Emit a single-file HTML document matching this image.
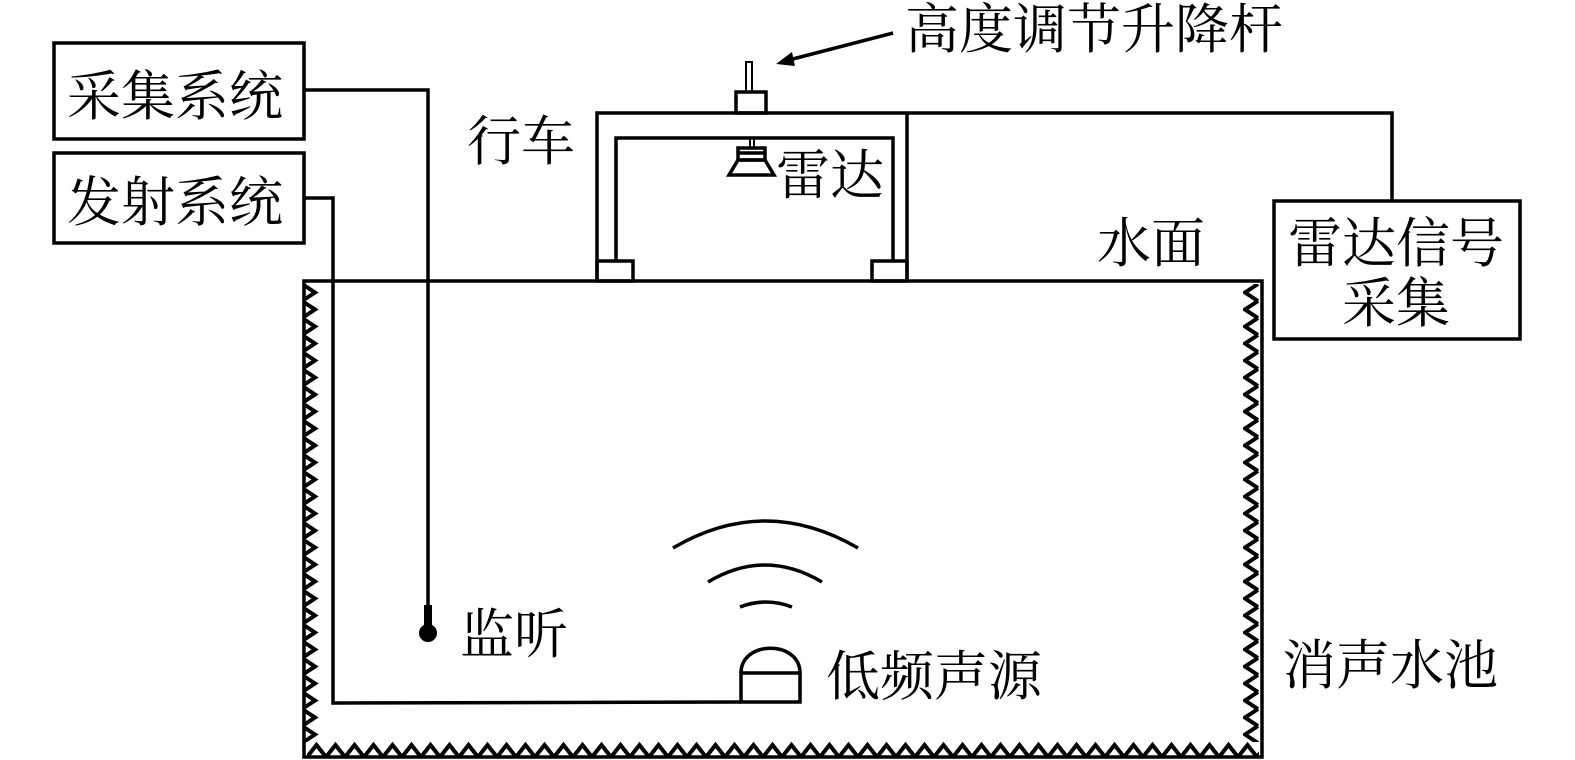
<!DOCTYPE html>
<html><head><meta charset="utf-8"><style>
html,body{margin:0;padding:0;background:#fff;}
svg{display:block}
text{font-family:"Liberation Serif","Noto Serif CJK SC",serif;font-size:54px;fill:#000}
</style></head><body>
<svg width="1575" height="760" viewBox="0 0 1575 760" xmlns="http://www.w3.org/2000/svg">
<defs>
<pattern id="zl" x="0" y="284" width="20" height="17" patternUnits="userSpaceOnUse">
<path d="M2,0 L15,8.5 L2,17" fill="none" stroke="#000" stroke-width="4"/>
</pattern>
<pattern id="zr" x="0" y="284" width="20" height="17" patternUnits="userSpaceOnUse">
<path d="M18,0 L5,8.5 L18,17" fill="none" stroke="#000" stroke-width="4"/>
</pattern>
<pattern id="zb" x="307" y="0" width="19" height="20" patternUnits="userSpaceOnUse">
<path d="M0,17 L9.5,5 L19,17" fill="none" stroke="#000" stroke-width="4"/>
</pattern>
</defs>
<g fill="none" stroke="#000" stroke-width="3.5">
<path d="M304,281 L1262,281 L1262,757 L304,757 Z"/>
</g>
<rect x="304" y="284" width="17" height="458" fill="url(#zl)"/>
<rect x="1243" y="284" width="19" height="458" fill="url(#zr)"/>
<rect x="307" y="740" width="952" height="17" fill="url(#zb)"/>
<g fill="none" stroke="#000" stroke-width="3.5">
<path d="M597,281 L597,113 L1392,113 L1392,201"/>
<path d="M907,113 L907,281"/>
<path d="M616,262 L616,138 L893,138 L893,262"/>
<rect x="597" y="261" width="36" height="20"/>
<rect x="872" y="261" width="35" height="20"/>
<rect x="736" y="92" width="30" height="21"/>
<rect x="746" y="62" width="6" height="30" stroke-width="2"/>
<path d="M750,138 L750,148 M754,138 L754,148" stroke-width="2"/>
<rect x="738" y="148" width="27" height="12"/>
<path d="M738,153 L765,153"/>
<path d="M738,160 L765,160 L774,175 L729,175 Z"/>
<rect x="54" y="43" width="250" height="96"/>
<rect x="54" y="153" width="250" height="90"/>
<rect x="1274" y="201" width="246" height="138"/>
<path d="M304,90 L428,90 L428,606"/>
<path d="M304,198 L333,198 L333,703 L741,702"/>
<rect x="741" y="673" width="59" height="29"/>
<path d="M741,673 C741,640 800,640 800,673"/>
<path d="M673,548 Q765,494 858,548"/>
<path d="M708,582 Q765,548 822,582"/>
<path d="M740,607 Q766,597 792,607"/>
<path d="M893,33 L785,61"/>
</g>
<path d="M776,64 L792,52 L795,66 Z" fill="#000"/>
<rect x="424" y="605" width="8" height="22" fill="#000"/>
<circle cx="428" cy="633" r="9" fill="#000"/>
<text x="905" y="48">高度调节升降杆</text>
<text x="467" y="160">行车</text>
<text x="776" y="194">雷达</text>
<text x="1097" y="262">水面</text>
<text x="1288" y="262">雷达信号</text>
<text x="1342" y="322">采集</text>
<text x="67" y="115">采集系统</text>
<text x="67" y="221">发射系统</text>
<text x="460" y="653">监听</text>
<text x="826" y="695">低频声源</text>
<text x="1282" y="684">消声水池</text>
</svg>
</body></html>
